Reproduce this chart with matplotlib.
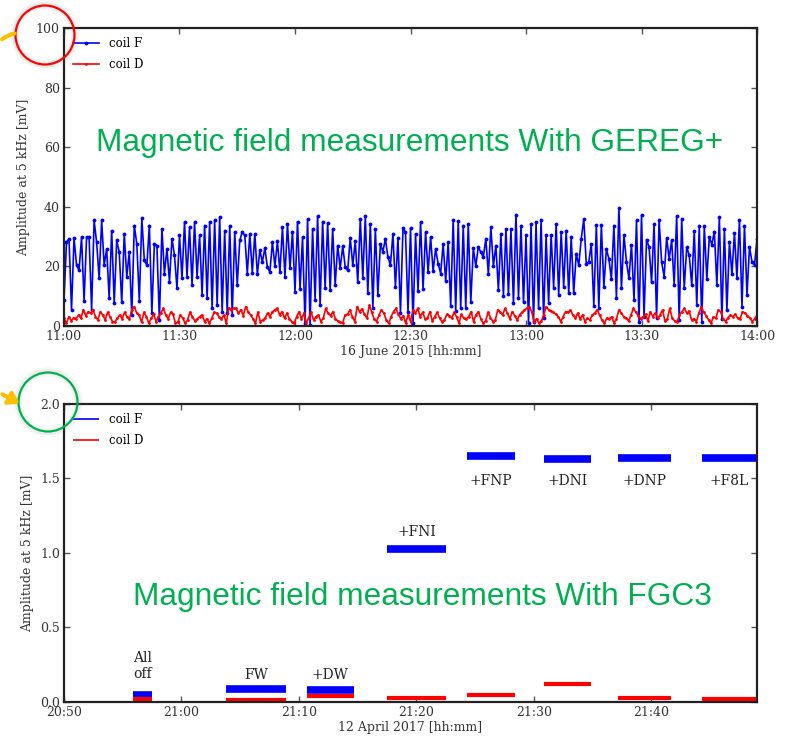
import numpy as np
import pandas as pd
import matplotlib
matplotlib.use("Agg")
import matplotlib.pyplot as plt
import matplotlib.dates as mdates
from matplotlib.patches import Ellipse, FancyArrowPatch

# top panel: 16 June 2015, 11:00 - 14:00
coil_f_top = [
    8.7, 28.1, 29.3, 5.4, 29.5, 20.4, 18.7, 29.8, 8.4, 29.8, 29.8, 5.4, 35.4, 28.1, 16.0, 35.4, 20.4, 25.9,
    9.3, 32.0, 7.6, 28.7, 24.8, 7.9, 30.9, 16.5, 24.8, 3.7, 33.7, 27.6, 8.4, 36.1, 22.0, 20.4, 33.7, 4.3,
    27.6, 27.0, 2.0, 32.6, 17.6, 25.9, 14.8, 29.3, 23.7, 12.6, 30.4, 16.0, 34.8, 16.5, 33.1, 13.7, 34.8,
    16.5, 30.4, 10.4, 33.7, 9.3, 34.8, 6.0, 35.4, 7.0, 36.5, 4.8, 32.0, 4.3, 33.7, 3.7, 31.5, 13.7, 28.7, 31.5,
    30.4, 17.6, 30.9, 17.9, 30.9, 17.3, 25.4, 21.5, 26.1, 19.8, 18.1, 28.1, 20.1, 28.4, 18.1, 33.1, 16.5,
    34.3, 19.3, 31.7, 11.5, 35.0, 12.4, 29.8, 0.9, 35.9, 0.4, 32.6, 8.7, 37.0, 7.0, 35.0, 12.6, 34.6, 12.0,
    32.6, 13.7, 27.0, 19.3, 26.8, 19.8, 18.7, 29.5, 20.4, 28.4, 14.6, 35.9, 16.1, 36.8, 10.9, 34.3, 5.9,
    32.6, 10.4, 27.6, 24.8, 29.3, 23.1, 20.4, 30.9, 13.1, 29.5, 4.3, 32.8,
    31.5, 4.8, 32.8, 0.9, 30.9, 11.7, 34.8, 12.4, 31.5, 18.1, 29.8, 18.4, 25.9, 20.9, 17.6, 27.6, 15.0,
    28.1, 6.8, 35.7, 5.0, 35.3, 5.9, 33.7, 6.1, 34.3, 7.9, 26.1, 20.1, 26.5, 24.8, 23.1, 29.3, 17.3, 33.1,
    20.1, 27.0, 12.0, 30.9, 10.1, 32.6, 10.6, 32.4, 7.6, 37.4, 9.5, 33.7, 7.9, 30.4, 0.9, 34.3, 1.5, 34.8,
    5.9, 35.7, 2.6, 30.4, 7.6, 30.6, 12.8, 34.3, 10.4, 31.5, 13.1, 32.0, 10.9, 29.8,
    10.9, 24.3, 20.4, 29.3, 35.9, 20.9, 21.5, 27.6, 6.8, 33.9, 5.9, 33.9, 13.1, 25.7, 22.6, 15.7, 33.7,
    9.3, 39.7, 12.6, 30.6, 21.5, 16.0, 27.3, 8.7, 35.4, 1.5, 37.2, 3.1, 29.0, 26.5, 14.6, 34.3, 2.6, 35.7,
    21.5, 16.5, 29.6, 22.6, 28.7, 13.9, 36.8, 2.0, 35.9, 12.6, 26.5, 23.7, 13.7, 32.0, 7.0, 33.5, 1.5,
    33.5, 15.7, 29.8, 27.3, 31.7, 13.7, 36.5, 2.3, 32.6, 5.4, 28.1, 17.3, 31.2, 16.0, 35.7, 6.5, 33.7,
    10.4, 26.5, 21.5, 20.4, 29.3,
]
coil_d_top = [
    2.6, 0.9, 3.1, 1.7, 2.8, 2.4, 3.7, 2.6, 5.4, 3.4, 4.8, 4.3, 5.4, 3.1, 2.0, 4.8, 3.7, 2.0, 4.6, 3.1, 1.5,
    1.3, 2.6, 3.7, 2.4, 4.6, 3.1, 2.4, 5.4, 6.5, 4.3, 3.7, 1.3, 4.6, 3.1, 0.9, 2.6, 3.9, 1.5, 3.1, 4.3, 5.9,
    3.7, 2.4, 4.6, 3.9, 0.9, 1.3, 3.7, 2.6, 0.9, 2.0, 4.6, 3.1, 1.7, 2.4, 3.1, 3.7, 1.5, 2.4, 0.9, 2.6, 4.6,
    4.3, 3.1, 2.4, 3.7, 0.9, 6.1, 5.4, 5.9,
    5.9, 4.3, 5.4, 3.5, 6.5, 4.8, 3.7, 2.4, 0.9, 4.6, 1.5, 2.0, 2.6, 4.3, 3.1, 4.8, 5.4, 5.9, 3.7, 4.8, 2.6,
    4.3, 2.4, 1.5, 0.9, 3.1, 4.8, 2.4, 4.3, 0.9, 2.8, 4.6, 2.0, 3.1, 3.7, 1.5, 2.6, 5.9, 4.3, 3.5, 4.8, 2.4,
    1.7, 1.3, 0.9, 3.7, 3.9, 5.4, 3.1, 1.5, 6.5, 4.8, 5.7, 3.9, 2.6, 7.0, 4.6, 2.4, 1.5, 3.7, 5.4, 4.3, 2.0,
    0.9, 3.1, 4.8, 5.9, 3.9, 2.4, 3.5, 0.9,
    3.7, 1.5, 5.4, 4.3, 5.9, 3.1, 4.6, 2.4, 2.6, 4.8, 1.7, 3.1, 4.6, 2.6, 1.5, 2.0, 3.9, 3.5, 2.6, 4.6, 3.1,
    0.9, 3.9, 2.6, 2.4, 3.1, 4.8, 1.5, 3.7, 4.8, 2.4, 0.9, 1.7, 4.6, 2.8, 1.5, 2.0, 5.4, 4.6, 3.7, 5.9, 4.3,
    2.4, 4.8, 3.5, 2.0, 3.7, 4.6, 5.4, 5.9, 6.5, 4.8, 1.5, 2.4, 0.9, 1.7, 3.7, 6.5, 5.4, 5.0, 4.6, 3.9, 3.1,
    1.5, 3.1, 4.8, 4.6, 5.4, 3.7, 2.6, 4.3, 2.4, 3.7,
    1.5, 2.6, 2.0, 3.7, 4.3, 5.4, 3.7, 2.0, 0.9, 2.6, 2.4, 3.1, 0.9, 2.4, 5.4, 4.3, 3.1, 2.6, 1.7, 3.7, 5.9,
    4.6, 3.5, 2.4, 3.1, 3.9, 1.7, 4.8, 3.1, 4.3, 2.6, 3.7, 5.4, 1.7, 2.4, 5.9, 2.6, 1.7, 1.3, 3.7, 4.8, 5.9,
    4.3, 5.0, 2.0, 2.4, 1.5, 4.3, 6.5, 4.6, 3.5, 2.0, 0.9, 3.1, 2.6, 5.4, 4.8, 2.4, 1.5, 2.8, 3.7, 3.1, 3.9,
    2.6, 2.4, 4.8, 4.3, 3.5, 2.8, 1.5, 2.4, 3.7,
]

# bottom panel: 12 April 2017, one segment per configuration
seg_start = ["20:55:50", "21:03:50", "21:10:40", "21:17:30", "21:24:20", "21:30:50", "21:37:10", "21:44:20"]
seg_end = ["20:57:30", "21:08:55", "21:14:40", "21:22:30", "21:28:25", "21:34:50", "21:41:40", "21:49:00"]
coil_f_seg = [0.045, 0.085, 0.08, 1.03, 1.65, 1.632, 1.64, 1.635]
coil_d_seg = [0.02, 0.015, 0.04, 0.025, 0.05, 0.12, 0.027, 0.022]
seg_labels = ["All\noff", "FW", "+DW", "+FNI", "+FNP", "+DNI", "+DNP", "+F8L"]
label_y = [0.24, 0.18, 0.18, 1.14, 1.48, 1.48, 1.48, 1.48]

plt.rcParams['font.family'] = 'DejaVu Serif'
plt.rcParams['font.size'] = 9

fig = plt.figure(figsize=(7.88, 7.38), dpi=100)
ax1 = fig.add_axes([0.0812, 0.5583, 0.8795, 0.4038])
ax2 = fig.add_axes([0.0812, 0.0488, 0.8795, 0.4038])

t_f = pd.date_range("2015-06-16 11:00", "2015-06-16 14:00", periods=len(coil_f_top))
t_d = pd.date_range("2015-06-16 11:00", "2015-06-16 14:00", periods=len(coil_d_top))
ax1.plot(t_f, coil_f_top, "b-", marker=".", markersize=3.5, lw=1.2, label="coil F")
ax1.plot(t_d, coil_d_top, "r-", marker=".", markersize=2, lw=1.2, label="coil D")
ax1.set_xlim(pd.Timestamp("2015-06-16 11:00"), pd.Timestamp("2015-06-16 14:00"))
ax1.set_ylim(0, 100)
ax1.set_yticks([0, 20, 40, 60, 80, 100])
ax1.xaxis.set_major_locator(mdates.MinuteLocator(byminute=[0, 30]))
ax1.xaxis.set_major_formatter(mdates.DateFormatter("%H:%M"))
ax1.set_xlabel("16 June 2015 [hh:mm]", color="#333333", labelpad=1)
ax1.set_ylabel("Amplitude at 5 kHz [mV]", color="#333333")

day = "2017-04-12 "
for i in range(len(seg_start)):
    t0 = pd.Timestamp(day + seg_start[i])
    t1 = pd.Timestamp(day + seg_end[i])
    ax2.plot([t0, t1], [coil_f_seg[i], coil_f_seg[i]], color="blue", lw=5.5, solid_capstyle="butt",
             label="coil F" if i == 0 else None)
    ax2.plot([t0, t1], [coil_d_seg[i], coil_d_seg[i]], color="red", lw=3, solid_capstyle="butt",
             label="coil D" if i == 0 else None)
    tm = t0 + (t1 - t0) / 2
    ax2.text(tm, label_y[i], seg_labels[i], ha="center", va="center", fontsize=10, color="#222222",
             linespacing=1.2)
ax2.set_xlim(pd.Timestamp(day + "20:50"), pd.Timestamp(day + "21:49"))
ax2.set_ylim(0, 2.0)
ax2.set_yticks([0.0, 0.5, 1.0, 1.5, 2.0])
ax2.xaxis.set_major_locator(mdates.MinuteLocator(byminute=[0, 10, 20, 30, 40, 50]))
ax2.xaxis.set_major_formatter(mdates.DateFormatter("%H:%M"))
ax2.set_xlabel("12 April 2017 [hh:mm]", color="#333333", labelpad=1)
ax2.set_ylabel("Amplitude at 5 kHz [mV]", color="#333333")

for ax in [ax1, ax2]:
    for s in ax.spines.values():
        s.set_linewidth(1.6)
        s.set_color("#222222")
    ax.tick_params(direction="in", top=True, right=True, length=4, width=1, color="#555555",
                   labelcolor="#333333", labelsize=9, pad=3)
    leg = ax.legend(loc="upper left", frameon=False, fontsize=8.5, handlelength=2.2,
                    borderaxespad=0.4, labelspacing=0.65)
    for h in leg.get_lines():
        h.set_linewidth(1.2)

# slide annotations
green = "#00B050"
fig.text(410 / 788, 1 - 143 / 738, "Magnetic field measurements With GEREG+", color=green,
         fontsize=22.8, family="Liberation Sans", ha="center", va="center")
fig.text(422 / 788, 1 - 597 / 738, "Magnetic field measurements With FGC3", color=green,
         fontsize=22.8, family="Liberation Sans", ha="center", va="center")

for cx, cy, col in [(45, 35, "red"), (48, 402, green)]:
    for lw, a in [(7, 0.05), (4.5, 0.08)]:
        fig.patches.append(Ellipse((cx / 788, 1 - cy / 738), 60 / 788, 60 / 738, fill=False,
                                   edgecolor="gray", lw=lw, alpha=a, transform=fig.transFigure))
    fig.patches.append(Ellipse((cx / 788, 1 - cy / 738), 59 / 788, 59 / 738, fill=False,
                               edgecolor=col, lw=1.6, transform=fig.transFigure))

fig.patches.append(FancyArrowPatch((0, 1 - 41 / 738), (17 / 788, 1 - 33 / 738),
                                   connectionstyle="arc3,rad=-0.15", arrowstyle="-",
                                   color="#FFC000", lw=3, transform=fig.transFigure))
fig.patches.append(FancyArrowPatch((0, 1 - 393 / 738), (22 / 788, 1 - 405 / 738),
                                   arrowstyle="-|>,head_length=6,head_width=4",
                                   color="#FFC000", lw=3, transform=fig.transFigure))

fig.savefig("out.png", dpi=100)
